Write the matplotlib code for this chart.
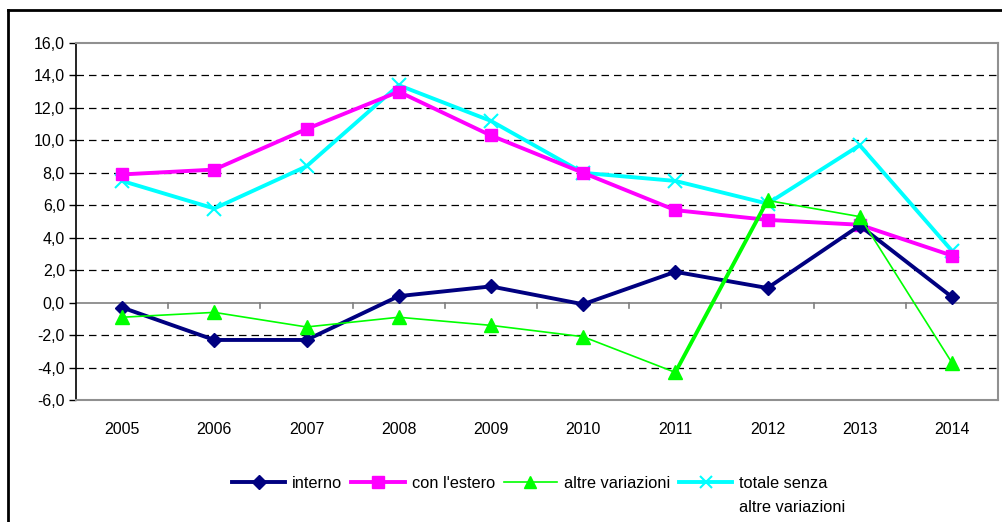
import numpy as np
import matplotlib.pyplot as plt
from matplotlib.lines import Line2D

plt.rcParams['font.family'] = ['Liberation Sans', 'DejaVu Sans']

# Dati
anni = ['2005', '2006', '2007', '2008', '2009', '2010', '2011', '2012', '2013', '2014']
interno = [-0.3, -2.3, -2.3, 0.4, 1.0, -0.1, 1.9, 0.9, 4.75, 0.35]
con_estero = [7.9, 8.2, 10.7, 13.0, 10.3, 8.0, 5.7, 5.1, 4.8, 2.9]
altre_var = [-0.9, -0.6, -1.5, -0.9, -1.4, -2.1, -4.3, 6.3, 5.3, -3.7]
totale_senza = [7.5, 5.8, 8.4, 13.4, 11.2, 8.0, 7.5, 6.1, 9.7, 3.2]
y_ticks = np.arange(-6, 17, 2)

fig = plt.figure(figsize=(10.02, 5.22), dpi=100)
ax = fig.add_axes([76 / 1002, 1 - 400 / 522, 922 / 1002, 357 / 522])

x = np.arange(len(anni))

# griglia tratteggiata
for v in y_ticks:
    if v not in (-6, 0, 16):
        ax.axhline(v, color='black', lw=0.9, ls=(0, (6, 4)), zorder=1)
ax.axhline(0, color='#808080', lw=1.2, zorder=2)

ax.plot(x, interno, color='#000080', lw=2.8, marker='D', ms=7, zorder=5)
ax.plot(x, con_estero, color='#FF00FF', lw=2.8, marker='s', ms=9, zorder=4)
ax.plot(x, altre_var, color='#00FF00', lw=1.2, marker='^', ms=10, zorder=6)
# segmento 2011-2012 più spesso, come nell'originale
ax.plot(x[6:8], altre_var[6:8], color='#00FF00', lw=2.8, zorder=6)
ax.plot(x, totale_senza, color='#00FFFF', lw=2.8, marker='x', ms=10, mew=1.5, zorder=3)

ax.set_xlim(-0.5, len(anni) - 0.5)
ax.set_ylim(-6, 16)
ax.set_yticks(y_ticks)
ax.set_yticklabels([f'{v:.1f}'.replace('.', ',') for v in y_ticks], fontsize=11.5)
ax.set_xticks([])
for xi, lab in zip(x, anni):
    ax.text(xi, -7.8, lab, ha='center', va='center', fontsize=11.5)
# tacche dell'asse categorie sullo zero
for b in np.arange(0.5, len(anni) - 0.5, 1):
    ax.plot([b, b], [0, -0.35], color='#808080', lw=1.2, zorder=2)

ax.tick_params(axis='y', length=5, width=1, color='black', pad=3)
for s in ['top', 'right', 'bottom']:
    ax.spines[s].set_color('#909090')
    ax.spines[s].set_linewidth(1.5)
ax.spines['left'].set_color('black')
ax.spines['left'].set_linewidth(1.2)

handles = [
    Line2D([], [], color='#000080', lw=2.8, marker='D', ms=7),
    Line2D([], [], color='#FF00FF', lw=2.8, marker='s', ms=8),
    Line2D([], [], color='#00FF00', lw=1.2, marker='^', ms=9),
    Line2D([], [], color='#00FFFF', lw=2.8, marker='x', ms=9, mew=1.5),
]
labels = ['interno', "con l'estero", 'altre variazioni', 'totale senza']
leg = fig.legend(handles, labels, loc='center left',
                 bbox_to_anchor=(232 / 1002, 1 - 483 / 522),
                 ncol=4, frameon=False, fontsize=11.8, handlelength=3.25,
                 handletextpad=0.42, columnspacing=0.55, borderaxespad=0,
                 borderpad=0)

# seconda riga dell'ultima voce, allineata al testo "totale senza"
fig.canvas.draw()
bb = leg.get_texts()[-1].get_window_extent()
fig.text(bb.x0 / 1002, (bb.y0 + bb.y1) / 2 / 522 - 25 / 522, 'altre variazioni',
         ha='left', va='center', fontsize=11.8)

# cornice esterna
fig.add_artist(Line2D([8 / 1002, 1.0], [1 - 10 / 522, 1 - 10 / 522],
                      color='black', lw=2, transform=fig.transFigure))
fig.add_artist(Line2D([8 / 1002, 8 / 1002], [0, 1 - 10 / 522],
                      color='black', lw=2, transform=fig.transFigure))

fig.savefig('out.png', dpi=100)
